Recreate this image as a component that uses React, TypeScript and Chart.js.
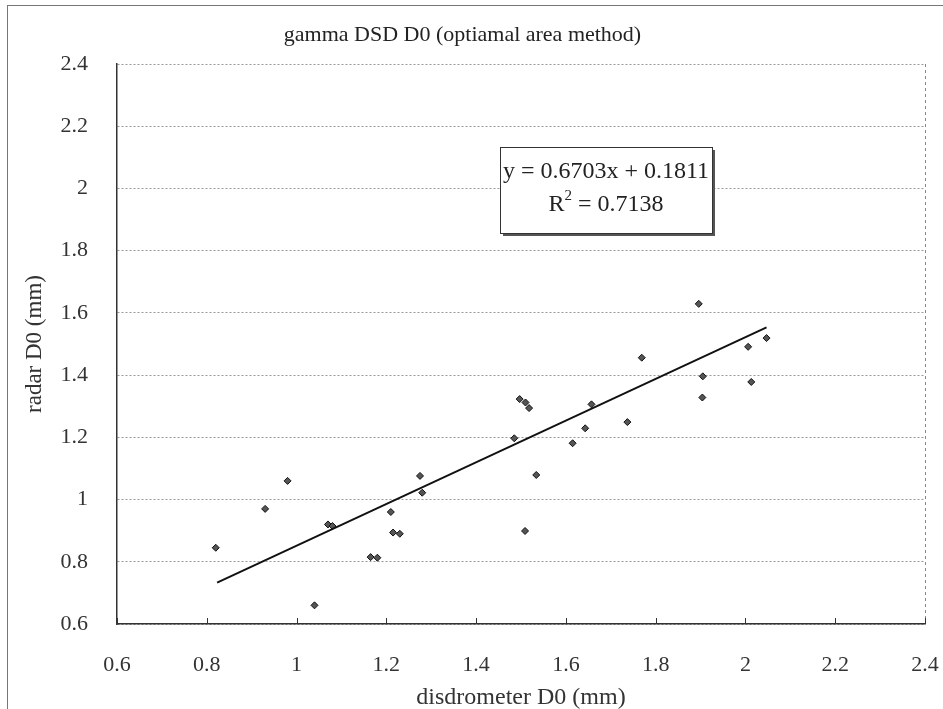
import React, { useEffect, useRef } from "react";
import { Chart, registerables } from "chart.js";

Chart.register(...registerables);

const TITLE = "gamma DSD D0 (optiamal area method)";
const X_TITLE = "disdrometer D0 (mm)";
const Y_TITLE = "radar D0 (mm)";

const xTicks = [0.6, 0.8, 1, 1.2, 1.4, 1.6, 1.8, 2, 2.2, 2.4];
const yTicks = [0.6, 0.8, 1, 1.2, 1.4, 1.6, 1.8, 2, 2.2, 2.4];

const disdrometerD0 = [
  0.82, 0.93, 0.98, 1.04, 1.07, 1.08, 1.165, 1.18, 1.21, 1.215, 1.23, 1.275, 1.28,
  1.485, 1.497, 1.51, 1.518, 1.534, 1.509, 1.615, 1.643, 1.657, 1.737, 1.769,
  1.896, 1.905, 1.904, 2.006, 2.013, 2.047,
];
const radarD0 = [
  0.845, 0.97, 1.06, 0.66, 0.92, 0.915, 0.815, 0.813, 0.96, 0.894, 0.89, 1.076, 1.022,
  1.197, 1.323, 1.312, 1.294, 1.079, 0.899, 1.181, 1.229, 1.306, 1.249, 1.456,
  1.629, 1.396, 1.328, 1.491, 1.378, 1.519,
];

const trendX = [0.823, 2.047];
const trendY = [0.7328, 1.5532];

const EQ_LINE = "y = 0.6703x + 0.1811";
const R2_VALUE = " = 0.7138";

const FONT = "'Liberation Serif', 'Times New Roman', serif";

const decorPlugin = {
  id: "decor",
  beforeDatasetsDraw(chart: any) {
    const { ctx, chartArea: a, scales } = chart;
    ctx.save();
    ctx.strokeStyle = "#888";
    ctx.lineWidth = 1;
    ctx.setLineDash([3, 3]);
    ctx.beginPath();
    ctx.moveTo(Math.round(a.right) + 0.5, a.top);
    ctx.lineTo(Math.round(a.right) + 0.5, a.bottom);
    ctx.stroke();
    ctx.setLineDash([]);
    ctx.strokeStyle = "#333";
    ctx.beginPath();
    scales.x.ticks.forEach((t: any) => {
      const px = Math.round(scales.x.getPixelForValue(t.value)) + 0.5;
      ctx.moveTo(px, a.bottom);
      ctx.lineTo(px, a.bottom - 6);
    });
    ctx.stroke();
    ctx.restore();
  },
  afterDraw(chart: any) {
    const { ctx, width, height, chartArea: a } = chart;
    ctx.save();
    // outer frame
    ctx.strokeStyle = "#777";
    ctx.lineWidth = 1;
    ctx.beginPath();
    ctx.moveTo(7.5, 5);
    ctx.lineTo(7.5, height);
    ctx.moveTo(7, 5.5);
    ctx.lineTo(width, 5.5);
    ctx.stroke();

    // regression box
    const bx = a.left + 383;
    const by = 147;
    const bw = 212;
    const bh = 86;
    ctx.fillStyle = "#555";
    ctx.fillRect(bx + 3, by + 3, bw, bh);
    ctx.fillStyle = "#fff";
    ctx.fillRect(bx, by, bw, bh);
    ctx.strokeStyle = "#333";
    ctx.strokeRect(bx + 0.5, by + 0.5, bw, bh);

    const cx = bx + bw / 2;
    ctx.fillStyle = "#222";
    ctx.textBaseline = "middle";
    ctx.textAlign = "center";
    ctx.font = `24px ${FONT}`;
    ctx.fillText(EQ_LINE, cx, by + 25);

    ctx.textAlign = "left";
    const rW = ctx.measureText("R").width;
    const vW = ctx.measureText(R2_VALUE).width;
    ctx.font = `15px ${FONT}`;
    const sW = ctx.measureText("2").width;
    const total = rW + sW + vW;
    const x0 = cx - total / 2;
    const ly = by + 58;
    ctx.font = `24px ${FONT}`;
    ctx.fillText("R", x0, ly);
    ctx.font = `15px ${FONT}`;
    ctx.fillText("2", x0 + rW, ly - 9);
    ctx.font = `24px ${FONT}`;
    ctx.fillText(R2_VALUE, x0 + rW + sW, ly);
    ctx.restore();
  },
};

export default function App() {
  const ref = useRef<HTMLCanvasElement | null>(null);

  useEffect(() => {
    document.body.style.margin = "0";
    document.body.style.overflow = "hidden";
    const canvas = ref.current;
    if (!canvas) return;
    const chart = new Chart(canvas, {
      type: "scatter",
      data: {
        datasets: [
          {
            label: "points",
            data: disdrometerD0.map((x, i) => ({ x, y: radarD0[i] })),
            pointStyle: "rectRot",
            pointRadius: 3.5,
            pointBackgroundColor: "#555",
            pointBorderColor: "#111",
            pointBorderWidth: 1,
            order: 2,
          },
          {
            label: "trend",
            data: trendX.map((x, i) => ({ x, y: trendY[i] })),
            showLine: true,
            borderColor: "#111",
            borderWidth: 2,
            pointRadius: 0,
            order: 1,
          } as any,
        ],
      },
      options: {
        animation: false,
        responsive: false,
        devicePixelRatio: 1,
        layout: { padding: { top: 0, right: 18, bottom: 0, left: 0 } },
        plugins: {
          legend: { display: false },
          tooltip: { enabled: false },
          title: {
            display: true,
            text: TITLE,
            color: "#222",
            font: { family: FONT, size: 22, weight: "normal" },
            padding: { top: 22, bottom: 15.6 },
          },
        },
        scales: {
          x: {
            type: "linear",
            min: 0.6,
            max: 2.4,
            afterBuildTicks: (scale: any) => {
              scale.ticks = xTicks.map((value) => ({ value }));
            },
            afterFit: (scale: any) => {
              scale.height = 85;
              scale.paddingLeft = 0;
              scale.paddingRight = 0;
            },
            grid: { display: false, drawTicks: false },
            border: { display: true, color: "#333", width: 1.5 },
            ticks: {
              color: "#333",
              padding: 28,
              maxRotation: 0,
              font: { family: FONT, size: 22 },
              callback: (v: any) => String(v),
            },
            title: {
              display: true,
              text: X_TITLE,
              color: "#333",
              font: { family: FONT, size: 24 },
              padding: { top: 0, bottom: -3 },
            },
          },
          y: {
            type: "linear",
            min: 0.6,
            max: 2.4,
            afterBuildTicks: (scale: any) => {
              scale.ticks = yTicks.map((value) => ({ value }));
            },
            afterFit: (scale: any) => {
              scale.width = 117;
            },
            grid: { display: true, drawTicks: false, color: "#999", lineWidth: 1 },
            border: { display: true, color: "#333", width: 1.5, dash: [2, 2] },
            ticks: {
              color: "#333",
              padding: 29,
              font: { family: FONT, size: 22 },
              callback: (v: any) => String(v),
            },
            title: {
              display: true,
              text: Y_TITLE,
              color: "#333",
              font: { family: FONT, size: 23 },
              padding: { top: 21, bottom: 0 },
            },
          },
        },
      },
      plugins: [decorPlugin],
    } as any);
    return () => chart.destroy();
  }, []);

  return (
    <canvas
      ref={ref}
      width={943}
      height={709}
      style={{ display: "block", width: 943, height: 709 }}
    />
  );
}
